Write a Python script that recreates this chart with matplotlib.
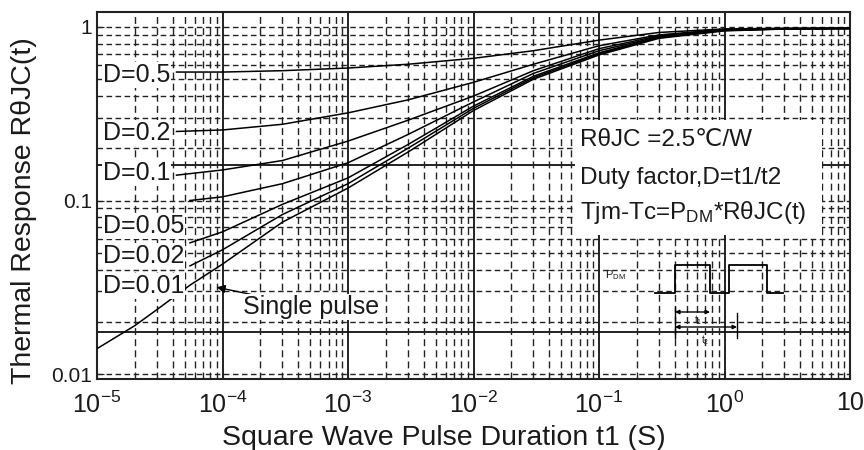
import numpy as np
import matplotlib
matplotlib.use("Agg")
import matplotlib.pyplot as plt
from matplotlib.patches import Rectangle

plt.rcParams['font.family'] = ['Liberation Sans', 'DejaVu Sans']
plt.rcParams['mathtext.fontset'] = 'custom'
plt.rcParams['mathtext.rm'] = 'Liberation Sans'
plt.rcParams['mathtext.it'] = 'Liberation Sans:italic'
plt.rcParams['mathtext.default'] = 'regular'

# pulse durations (s) shared by all duty-cycle curves
t_common = [1e-4, 3e-4, 1e-3, 3e-3, 1e-2, 3e-2, 1e-1, 3e-1, 1, 3, 10]

d_labels = ["D=0.5", "D=0.2", "D=0.1", "D=0.05", "D=0.02", "D=0.01"]
d_start_t = [4.3e-5, 4.3e-5, 4.3e-5, 5.5e-5, 5.5e-5, 5.5e-5]
d_start_v = [0.55, 0.25, 0.14, 0.10, 0.057, 0.042]
d05 = [0.55, 0.56, 0.58, 0.61, 0.66, 0.73, 0.84, 0.93, 0.975, 0.983, 0.985]
d02 = [0.255, 0.275, 0.32, 0.38, 0.48, 0.61, 0.78, 0.90, 0.97, 0.98, 0.983]
d01 = [0.15, 0.17, 0.22, 0.29, 0.40, 0.56, 0.75, 0.89, 0.965, 0.978, 0.982]
d005 = [0.105, 0.125, 0.165, 0.24, 0.37, 0.54, 0.73, 0.88, 0.96, 0.977, 0.981]
d002 = [0.066, 0.095, 0.135, 0.21, 0.35, 0.52, 0.71, 0.875, 0.958, 0.976, 0.98]
d001 = [0.052, 0.083, 0.125, 0.20, 0.34, 0.51, 0.70, 0.87, 0.955, 0.975, 0.98]
d_series = [d05, d02, d01, d005, d002, d001]

single_t = [1e-5, 2e-5, 3e-5, 5.5e-5, 1e-4, 3e-4, 1e-3, 3e-3, 1e-2, 3e-2, 1e-1, 3e-1, 1, 3, 10]
single_v = [0.014, 0.019, 0.0235, 0.0325, 0.043, 0.075, 0.118, 0.19, 0.33, 0.50, 0.69, 0.86, 0.95, 0.973, 0.98]

# odd solid horizontal lines of the scanned datasheet grid
solid_h = [0.16, 0.0175]

x_ticks = [1e-5, 1e-4, 1e-3, 1e-2, 1e-1, 1, 10]
x_ticklabels = ['$10^{-5}$', '$10^{-4}$', '$10^{-3}$', '$10^{-2}$', '$10^{-1}$', '$10^{0}$', '10']
y_ticks = [0.01, 0.1, 1]
y_ticklabels = ['0.01', '0.1', '1']

txt = '#1a1a1a'

fig = plt.figure(figsize=(8.64, 4.5), dpi=100)
ax = fig.add_axes([0.1123, 0.1578, 0.8715, 0.8155])
ax.set_xscale('log')
ax.set_yscale('log')
ax.set_xlim(1e-5, 10)
ax.set_ylim(0.00936, 1.22)

# grid
ax.grid(True, which='major', axis='x', color='#111', lw=1.3, ls='-')
ax.grid(True, which='minor', axis='x', color='#222', lw=1.0, ls=(0, (5, 3)))
ax.grid(True, which='both', axis='y', color='#222', lw=1.0, ls=(0, (4, 2.5)))
for v in solid_h:
    ax.axhline(v, color='#111', lw=1.3, zorder=1)

# curves
for st, sv, ys in zip(d_start_t, d_start_v, d_series):
    ax.plot([st] + t_common, [sv] + ys, color='black', lw=1.1, zorder=3)
ax.plot(single_t, single_v, color='black', lw=1.1, zorder=3)

ax.set_xticks(x_ticks)
ax.set_xticklabels(x_ticklabels, fontsize=18, color=txt)
ax.set_yticks(y_ticks)
ax.set_yticklabels(y_ticklabels, fontsize=15, color=txt)
ax.yaxis.set_minor_formatter(plt.NullFormatter())
ax.xaxis.set_minor_formatter(plt.NullFormatter())
ax.tick_params(which='both', direction='in', color='#222')
ax.tick_params(which='major', length=5)
ax.tick_params(axis='x', which='major', pad=9)
ax.tick_params(which='minor', length=3)
for s in ax.spines.values():
    s.set_linewidth(1.5)
    s.set_color('#222')

ax.set_xlabel('Square Wave Pulse Duration t1 (S)', fontsize=20.5, color=txt)
ax.set_ylabel('Thermal Response RθJC(t)', fontsize=20.5, color=txt)
ax.xaxis.set_label_coords(0.461, -0.125)
ax.yaxis.set_label_coords(-0.08, 0.46)

# duty labels
lab_y = [0.828, 0.670, 0.561, 0.417, 0.335, 0.253]
for lab, yy in zip(d_labels, lab_y):
    ax.text(0.008, yy, lab, transform=ax.transAxes, fontsize=18, color=txt,
            ha='left', va='center', zorder=5,
            bbox=dict(facecolor='white', edgecolor='none', pad=0.5))

ax.annotate('Single pulse', xy=(0.159, 0.25), xytext=(0.194, 0.196),
            xycoords='axes fraction', textcoords='axes fraction',
            fontsize=18, color=txt, ha='left', va='center', zorder=5,
            bbox=dict(facecolor='white', edgecolor='none', pad=0.5),
            arrowprops=dict(arrowstyle='-|>', color='black', lw=1, mutation_scale=12,
                            shrinkA=0, shrinkB=0))

# info box
ax.add_patch(Rectangle((0.635, 0.392), 0.328, 0.314, transform=ax.transAxes,
                       facecolor='white', edgecolor='none', zorder=4))
ax.text(0.641, 0.651, 'RθJC =2.5℃/W', transform=ax.transAxes, fontsize=17.5,
        color=txt, va='center', zorder=5)
ax.text(0.641, 0.548, 'Duty factor,D=t1/t2', transform=ax.transAxes, fontsize=17.5,
        color=txt, va='center', zorder=5)
ax.text(0.641, 0.455, 'Tjm-Tc=P$_{DM}$*RθJC(t)', transform=ax.transAxes, fontsize=17.5,
        color=txt, va='center', zorder=5)

# pulse sketch (axes fraction)
def fx(px):
    return (px - 97) / 753.0

def fy(py):
    return (379 - py) / 367.0

wave_x = [655, 675, 675, 710, 710, 729, 729, 767, 767, 783]
wave_y = [293, 293, 265, 265, 293, 293, 265, 265, 293, 293]
ax.plot([fx(v) for v in wave_x], [fy(v) for v in wave_y], transform=ax.transAxes,
        color='black', lw=1.3, zorder=5)
ax.plot([fx(675), fx(675)], [fy(307), fy(338)], transform=ax.transAxes, color='black', lw=1, zorder=5)
ax.plot([fx(737), fx(737)], [fy(313), fy(338)], transform=ax.transAxes, color='black', lw=1, zorder=5)
ax.annotate('', xy=(fx(675), fy(312)), xytext=(fx(710), fy(312)), xycoords='axes fraction',
            arrowprops=dict(arrowstyle='<|-|>', color='black', lw=1, mutation_scale=6,
                            shrinkA=0, shrinkB=0), zorder=5)
ax.annotate('', xy=(fx(675), fy(327)), xytext=(fx(737), fy(327)), xycoords='axes fraction',
            arrowprops=dict(arrowstyle='<|-|>', color='black', lw=1, mutation_scale=6,
                            shrinkA=0, shrinkB=0), zorder=5)
ax.text(fx(698), fy(320), 't$_1$', transform=ax.transAxes, fontsize=7, ha='center', va='center',
        color=txt, zorder=5)
ax.text(fx(705), fy(340), 't$_2$', transform=ax.transAxes, fontsize=7, ha='center', va='center',
        color=txt, zorder=5)
ax.text(fx(605), fy(275), 'P$_{DM}$', transform=ax.transAxes, fontsize=8, ha='left', va='center',
        color=txt, zorder=5)

fig.savefig('out.png', dpi=100)
